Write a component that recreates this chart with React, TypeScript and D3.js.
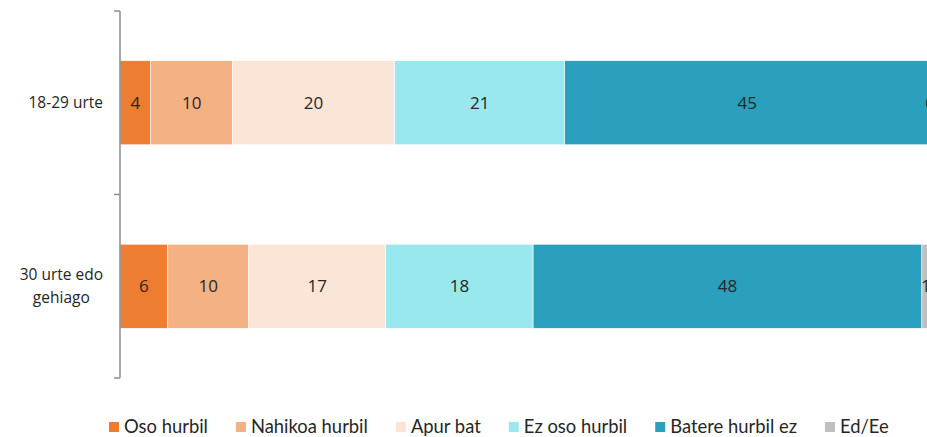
import React, { useEffect, useRef } from "react";
import * as d3 from "d3";

const categories = ["18-29 urte", "30 urte edo gehiago"];
const categoryLines = [["18-29 urte"], ["30 urte edo", "gehiago"]];
const seriesNames = ["Oso hurbil", "Nahikoa hurbil", "Apur bat", "Ez oso hurbil", "Batere hurbil ez", "Ed/Ee"];
const seriesColors = ["#ED7D31", "#F4B183", "#FBE5D6", "#98E8EE", "#2AA0BE", "#BFBFBF"];
const values18_29 = [3.8, 10.1, 20.0, 21.0, 45.1, 0];
const values30plus = [5.9, 10.0, 16.9, 18.2, 48.0, 1.0];
const labels18_29 = [4, 10, 20, 21, 45, 0];
const labels30plus = [6, 10, 17, 18, 48, 1];

const W = 927;
const H = 437;

export default function App() {
  const ref = useRef<SVGSVGElement | null>(null);

  useEffect(() => {
    const svg = d3.select(ref.current);
    svg.selectAll("*").remove();

    const rows = [
      { cat: categories[0], lines: categoryLines[0], vals: values18_29, labs: labels18_29 },
      { cat: categories[1], lines: categoryLines[1], vals: values30plus, labs: labels30plus },
    ];

    const x = d3.scaleLinear().domain([0, 100]).range([120, 930]);
    const y = d3
      .scaleBand<string>()
      .domain(categories)
      .range([11, 378])
      .paddingInner(0.542)
      .paddingOuter(0.271);

    const g = svg.append("g");

    rows.forEach((row) => {
      let acc = 0;
      const segs = row.vals.map((v, i) => {
        const s = { x0: acc, x1: acc + v, i, lab: row.labs[i] };
        acc += v;
        return s;
      });
      const y0 = y(row.cat)!;
      const bw = y.bandwidth();
      g.selectAll(null)
        .data(segs)
        .enter()
        .append("rect")
        .attr("x", (d) => x(d.x0))
        .attr("y", y0)
        .attr("width", (d) => Math.max(0, x(d.x1) - x(d.x0)))
        .attr("height", bw)
        .attr("fill", (d) => seriesColors[d.i])
        .attr("stroke", "#ffffff")
        .attr("stroke-width", 0.6);
      g.selectAll(null)
        .data(segs)
        .enter()
        .append("text")
        .attr("x", (d) => (x(d.x0) + x(d.x1)) / 2)
        .attr("y", y0 + bw / 2)
        .attr("dy", "0.36em")
        .attr("text-anchor", "middle")
        .attr("font-family", "'Open Sans', sans-serif")
        .attr("font-size", 17)
        .attr("fill", "#262626")
        .text((d) => String(d.lab));
    });

    // axis
    const axisColor = "#8c8c8c";
    g.append("line")
      .attr("x1", 120)
      .attr("x2", 120)
      .attr("y1", 11)
      .attr("y2", 378)
      .attr("stroke", axisColor)
      .attr("stroke-width", 1.5);
    const tickYs = [11, ...categories.map((c) => y(c)! + y.bandwidth() / 2 + y.step() / 2)];
    g.selectAll(null)
      .data(tickYs)
      .enter()
      .append("line")
      .attr("x1", 114)
      .attr("x2", 120)
      .attr("y1", (d) => d)
      .attr("y2", (d) => d)
      .attr("stroke", axisColor)
      .attr("stroke-width", 1.5);

    // category labels
    rows.forEach((row) => {
      const cy = y(row.cat)! + y.bandwidth() / 2;
      const lh = 23;
      const t = g
        .append("text")
        .attr("font-family", "'Open Sans', sans-serif")
        .attr("font-size", 15.5)
        .attr("fill", "#262626")
        .attr("text-anchor", "middle");
      const spans = row.lines.map((ln, i) =>
        t
          .append("tspan")
          .attr("y", cy + (i - (row.lines.length - 1) / 2) * lh)
          .attr("dy", "0.36em")
          .text(ln)
      );
      const maxW = Math.max(...spans.map((s) => (s.node() as SVGTSpanElement).getComputedTextLength()));
      const cx = 103 - maxW / 2;
      spans.forEach((s) => s.attr("x", cx));
    });

    // legend
    let lx = 109;
    const ly = 427;
    seriesNames.forEach((name, i) => {
      g.append("rect")
        .attr("x", lx)
        .attr("y", ly - 5)
        .attr("width", 10)
        .attr("height", 10)
        .attr("fill", seriesColors[i]);
      const t = g
        .append("text")
        .attr("x", lx + 15)
        .attr("y", ly)
        .attr("dy", "0.35em")
        .attr("font-family", "Lato, sans-serif")
        .attr("font-size", 18.4)
        .attr("fill", "#262626")
        .text(name);
      const w = (t.node() as SVGTextElement).getComputedTextLength();
      lx = lx + 15 + w + 28;
    });
  }, []);

  return (
    <div style={{ position: "fixed", left: 0, top: 0, width: W, height: H, background: "#fff" }}>
      <svg ref={ref} width={W} height={H} style={{ display: "block" }} />
    </div>
  );
}
